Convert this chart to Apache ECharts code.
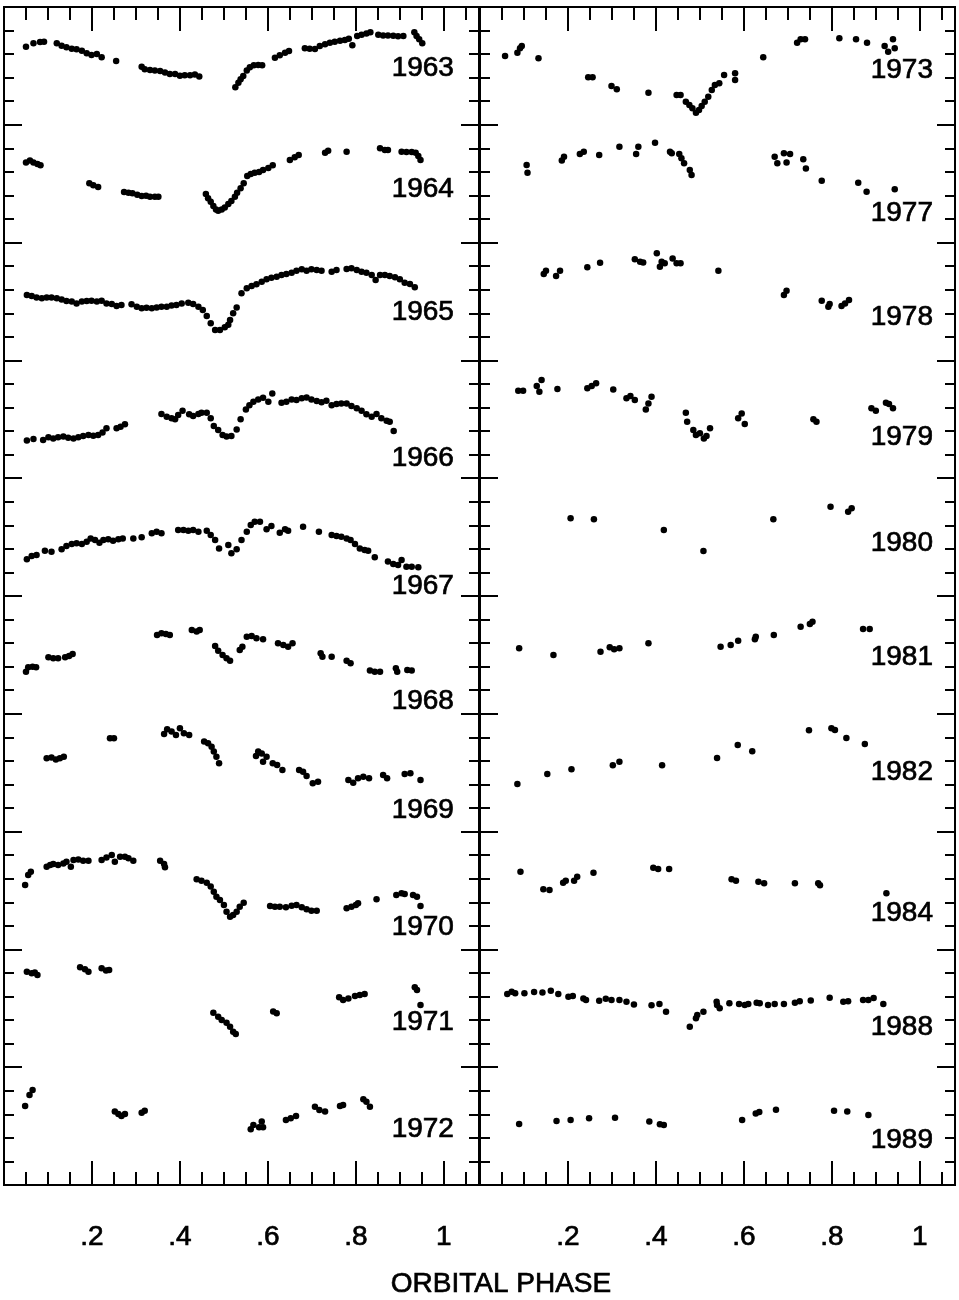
<!DOCTYPE html>
<html>
<head>
<meta charset="utf-8">
<script src="https://cdn.jsdelivr.net/npm/echarts@6/dist/echarts.min.js"></script>
<style>
  html, body { margin: 0; background: #fff; }
  #chart { width: 959px; height: 1300px; }
</style>
</head>
<body>
<div id="chart"></div>
<script>
// light curves: [orbital phase, relative magnitude offset (one major division = 1)]
const d1963 = [[0.050,0.337],[0.067,0.308],[0.082,0.297],[0.091,0.294],[0.120,0.308],[0.131,0.328],[0.142,0.342],[0.154,0.354],[0.165,0.359],[0.177,0.371],[0.188,0.393],[0.199,0.407],[0.211,0.399],[0.222,0.427],[0.255,0.458],[0.313,0.507],[0.320,0.529],[0.332,0.535],[0.343,0.540],[0.355,0.543],[0.366,0.557],[0.377,0.569],[0.389,0.569],[0.400,0.583],[0.411,0.580],[0.423,0.580],[0.434,0.574],[0.444,0.591],[0.526,0.682],[0.533,0.642],[0.538,0.614],[0.544,0.586],[0.552,0.540],[0.559,0.512],[0.568,0.495],[0.578,0.492],[0.587,0.495],[0.616,0.430],[0.627,0.410],[0.639,0.388],[0.648,0.374],[0.684,0.351],[0.695,0.354],[0.707,0.357],[0.718,0.331],[0.730,0.317],[0.741,0.303],[0.752,0.294],[0.764,0.286],[0.775,0.280],[0.784,0.269],[0.792,0.325],[0.803,0.246],[0.813,0.235],[0.824,0.224],[0.833,0.215],[0.851,0.235],[0.862,0.241],[0.873,0.241],[0.885,0.243],[0.896,0.249],[0.908,0.246],[0.933,0.215],[0.938,0.246],[0.944,0.274],[0.951,0.308]];
const d1964 = [[0.050,1.321],[0.059,1.304],[0.067,1.319],[0.076,1.333],[0.083,1.344],[0.194,1.497],[0.203,1.514],[0.214,1.528],[0.273,1.570],[0.283,1.576],[0.292,1.582],[0.303,1.593],[0.313,1.604],[0.323,1.602],[0.332,1.610],[0.343,1.610],[0.351,1.610],[0.459,1.587],[0.464,1.624],[0.470,1.653],[0.476,1.689],[0.482,1.718],[0.487,1.729],[0.495,1.718],[0.502,1.701],[0.510,1.672],[0.517,1.647],[0.525,1.610],[0.530,1.576],[0.538,1.539],[0.545,1.497],[0.553,1.435],[0.561,1.418],[0.570,1.406],[0.580,1.401],[0.589,1.384],[0.601,1.367],[0.611,1.344],[0.650,1.299],[0.661,1.276],[0.670,1.256],[0.730,1.237],[0.737,1.220],[0.779,1.228],[0.855,1.200],[0.866,1.214],[0.873,1.214],[0.904,1.228],[0.915,1.231],[0.927,1.231],[0.936,1.237],[0.942,1.265],[0.947,1.299]];
const d1965 = [[0.052,2.445],[0.063,2.453],[0.074,2.467],[0.086,2.473],[0.097,2.467],[0.108,2.465],[0.120,2.473],[0.131,2.482],[0.142,2.496],[0.154,2.501],[0.165,2.516],[0.177,2.501],[0.188,2.496],[0.199,2.493],[0.211,2.501],[0.222,2.493],[0.233,2.516],[0.245,2.521],[0.256,2.538],[0.267,2.530],[0.290,2.524],[0.302,2.544],[0.313,2.558],[0.324,2.552],[0.336,2.558],[0.347,2.550],[0.358,2.544],[0.370,2.544],[0.381,2.535],[0.392,2.530],[0.404,2.516],[0.419,2.510],[0.430,2.521],[0.442,2.544],[0.452,2.572],[0.461,2.623],[0.470,2.685],[0.480,2.742],[0.491,2.742],[0.502,2.719],[0.510,2.697],[0.514,2.657],[0.521,2.600],[0.529,2.550],[0.540,2.431],[0.552,2.388],[0.563,2.368],[0.574,2.354],[0.586,2.332],[0.597,2.312],[0.608,2.298],[0.620,2.289],[0.631,2.275],[0.642,2.267],[0.654,2.255],[0.665,2.238],[0.677,2.227],[0.688,2.238],[0.699,2.227],[0.711,2.233],[0.722,2.238],[0.745,2.247],[0.756,2.233],[0.779,2.224],[0.790,2.218],[0.802,2.233],[0.813,2.247],[0.824,2.255],[0.836,2.275],[0.845,2.317],[0.855,2.275],[0.866,2.275],[0.877,2.284],[0.889,2.295],[0.900,2.312],[0.911,2.340],[0.923,2.351],[0.934,2.380]];
const d1966 = [[0.052,3.681],[0.067,3.667],[0.089,3.676],[0.101,3.653],[0.112,3.662],[0.123,3.653],[0.135,3.647],[0.146,3.656],[0.158,3.662],[0.169,3.653],[0.180,3.642],[0.192,3.633],[0.203,3.639],[0.214,3.633],[0.224,3.613],[0.233,3.577],[0.256,3.577],[0.265,3.563],[0.275,3.543],[0.358,3.455],[0.370,3.478],[0.381,3.492],[0.389,3.500],[0.396,3.463],[0.406,3.427],[0.421,3.458],[0.430,3.472],[0.442,3.455],[0.449,3.444],[0.461,3.444],[0.470,3.492],[0.477,3.557],[0.487,3.591],[0.497,3.633],[0.506,3.647],[0.517,3.642],[0.529,3.586],[0.538,3.500],[0.550,3.416],[0.558,3.380],[0.567,3.351],[0.578,3.331],[0.589,3.317],[0.601,3.351],[0.610,3.280],[0.631,3.359],[0.642,3.351],[0.654,3.331],[0.665,3.337],[0.677,3.322],[0.688,3.314],[0.699,3.331],[0.711,3.345],[0.722,3.356],[0.733,3.342],[0.745,3.380],[0.756,3.370],[0.767,3.365],[0.779,3.365],[0.790,3.387],[0.802,3.407],[0.813,3.427],[0.824,3.458],[0.836,3.478],[0.847,3.455],[0.858,3.492],[0.870,3.512],[0.877,3.520],[0.886,3.600]];
const d1967 = [[0.052,4.689],[0.063,4.660],[0.074,4.652],[0.093,4.615],[0.108,4.624],[0.131,4.604],[0.142,4.576],[0.154,4.559],[0.165,4.553],[0.177,4.559],[0.188,4.539],[0.197,4.511],[0.207,4.525],[0.217,4.548],[0.226,4.525],[0.237,4.519],[0.248,4.530],[0.260,4.519],[0.270,4.511],[0.294,4.511],[0.313,4.502],[0.336,4.468],[0.347,4.454],[0.358,4.468],[0.396,4.440],[0.408,4.440],[0.419,4.446],[0.430,4.440],[0.442,4.454],[0.461,4.446],[0.470,4.482],[0.480,4.525],[0.489,4.596],[0.510,4.567],[0.517,4.638],[0.529,4.604],[0.540,4.525],[0.552,4.454],[0.561,4.398],[0.570,4.369],[0.582,4.369],[0.597,4.434],[0.608,4.406],[0.627,4.463],[0.639,4.434],[0.646,4.446],[0.680,4.412],[0.716,4.454],[0.745,4.482],[0.756,4.491],[0.767,4.496],[0.779,4.511],[0.788,4.525],[0.798,4.559],[0.809,4.596],[0.820,4.610],[0.828,4.615],[0.843,4.671],[0.873,4.708],[0.885,4.728],[0.896,4.737],[0.904,4.694],[0.915,4.751],[0.927,4.751],[0.942,4.757]];
const d1968 = [[0.050,5.642],[0.055,5.605],[0.065,5.600],[0.073,5.605],[0.101,5.520],[0.112,5.529],[0.123,5.529],[0.139,5.520],[0.148,5.509],[0.156,5.492],[0.348,5.331],[0.358,5.317],[0.368,5.322],[0.377,5.331],[0.427,5.288],[0.438,5.302],[0.445,5.288],[0.480,5.424],[0.487,5.464],[0.497,5.501],[0.506,5.529],[0.514,5.549],[0.536,5.458],[0.542,5.430],[0.552,5.345],[0.563,5.339],[0.574,5.359],[0.589,5.368],[0.623,5.402],[0.635,5.416],[0.646,5.430],[0.656,5.402],[0.720,5.487],[0.724,5.515],[0.745,5.515],[0.779,5.549],[0.788,5.571],[0.832,5.633],[0.843,5.642],[0.855,5.642],[0.891,5.614],[0.894,5.642],[0.917,5.628],[0.927,5.633]];
const d1969 = [[0.097,6.378],[0.108,6.370],[0.118,6.387],[0.127,6.378],[0.136,6.364],[0.241,6.208],[0.250,6.208],[0.364,6.171],[0.371,6.132],[0.381,6.151],[0.391,6.180],[0.400,6.123],[0.409,6.166],[0.421,6.180],[0.455,6.236],[0.464,6.251],[0.472,6.279],[0.477,6.321],[0.483,6.364],[0.489,6.420],[0.573,6.358],[0.578,6.321],[0.586,6.336],[0.589,6.407],[0.597,6.364],[0.611,6.420],[0.621,6.435],[0.633,6.477],[0.671,6.477],[0.680,6.491],[0.688,6.528],[0.702,6.590],[0.714,6.576],[0.783,6.562],[0.794,6.585],[0.805,6.548],[0.817,6.534],[0.830,6.548],[0.862,6.520],[0.871,6.548],[0.911,6.511],[0.924,6.505],[0.947,6.562]];
const d1970 = [[0.048,7.453],[0.055,7.368],[0.061,7.340],[0.097,7.298],[0.105,7.284],[0.112,7.275],[0.123,7.284],[0.135,7.270],[0.142,7.255],[0.152,7.298],[0.158,7.241],[0.169,7.236],[0.180,7.247],[0.192,7.247],[0.222,7.241],[0.233,7.219],[0.245,7.199],[0.252,7.255],[0.264,7.213],[0.275,7.213],[0.283,7.227],[0.294,7.247],[0.355,7.247],[0.364,7.275],[0.366,7.303],[0.438,7.405],[0.449,7.417],[0.461,7.434],[0.470,7.467],[0.477,7.510],[0.483,7.552],[0.491,7.581],[0.500,7.623],[0.506,7.680],[0.514,7.722],[0.521,7.708],[0.529,7.680],[0.536,7.637],[0.545,7.603],[0.605,7.631],[0.616,7.637],[0.627,7.637],[0.641,7.643],[0.654,7.629],[0.665,7.623],[0.677,7.643],[0.688,7.660],[0.699,7.671],[0.711,7.671],[0.779,7.651],[0.790,7.637],[0.800,7.623],[0.805,7.609],[0.847,7.575],[0.892,7.538],[0.904,7.524],[0.911,7.530],[0.930,7.538],[0.939,7.552],[0.947,7.631]];
const d1971 = [[0.052,8.189],[0.063,8.203],[0.070,8.197],[0.076,8.217],[0.173,8.152],[0.184,8.169],[0.192,8.189],[0.222,8.161],[0.232,8.180],[0.239,8.175],[0.476,8.537],[0.487,8.571],[0.495,8.599],[0.506,8.622],[0.514,8.656],[0.521,8.699],[0.527,8.718],[0.612,8.528],[0.620,8.543],[0.762,8.407],[0.771,8.430],[0.783,8.416],[0.798,8.396],[0.809,8.387],[0.820,8.379],[0.934,8.322],[0.939,8.345],[0.947,8.472]];
const d1972 = [[0.048,9.329],[0.058,9.236],[0.065,9.194],[0.252,9.377],[0.260,9.397],[0.267,9.414],[0.275,9.397],[0.313,9.386],[0.320,9.369],[0.561,9.527],[0.567,9.491],[0.580,9.510],[0.586,9.462],[0.589,9.510],[0.641,9.448],[0.652,9.434],[0.664,9.414],[0.707,9.335],[0.717,9.363],[0.730,9.377],[0.764,9.329],[0.771,9.321],[0.817,9.273],[0.824,9.293],[0.832,9.335]];

const d1973 = [[0.057,0.416],[0.085,0.388],[0.091,0.351],[0.095,0.331],[0.133,0.436],[0.246,0.597],[0.256,0.597],[0.299,0.671],[0.311,0.699],[0.383,0.727],[0.447,0.747],[0.456,0.747],[0.468,0.804],[0.476,0.832],[0.483,0.860],[0.491,0.897],[0.498,0.874],[0.504,0.840],[0.511,0.804],[0.519,0.761],[0.527,0.705],[0.534,0.662],[0.544,0.648],[0.555,0.577],[0.580,0.563],[0.580,0.620],[0.644,0.427],[0.721,0.303],[0.729,0.274],[0.739,0.274],[0.817,0.266],[0.855,0.274],[0.880,0.303],[0.920,0.331],[0.928,0.379],[0.939,0.274],[0.943,0.351]];
const d1977 = [[0.106,1.341],[0.108,1.406],[0.186,1.304],[0.191,1.271],[0.227,1.248],[0.236,1.228],[0.271,1.256],[0.317,1.186],[0.355,1.248],[0.360,1.186],[0.398,1.152],[0.432,1.228],[0.436,1.242],[0.453,1.248],[0.458,1.285],[0.464,1.327],[0.477,1.384],[0.481,1.426],[0.670,1.271],[0.676,1.327],[0.691,1.242],[0.697,1.321],[0.705,1.248],[0.735,1.293],[0.741,1.370],[0.777,1.474],[0.860,1.491],[0.879,1.568],[0.943,1.548]];
const d1978 = [[0.145,2.267],[0.150,2.238],[0.173,2.284],[0.182,2.238],[0.244,2.210],[0.273,2.170],[0.352,2.142],[0.364,2.162],[0.371,2.168],[0.402,2.091],[0.409,2.204],[0.413,2.162],[0.420,2.176],[0.438,2.134],[0.447,2.176],[0.456,2.176],[0.542,2.238],[0.691,2.445],[0.697,2.408],[0.777,2.493],[0.792,2.544],[0.795,2.521],[0.822,2.538],[0.830,2.516],[0.839,2.487]];
const d1979 = [[0.087,3.257],[0.098,3.257],[0.129,3.217],[0.135,3.266],[0.140,3.166],[0.176,3.243],[0.244,3.237],[0.254,3.217],[0.264,3.194],[0.303,3.246],[0.333,3.322],[0.342,3.302],[0.352,3.336],[0.377,3.416],[0.383,3.365],[0.390,3.308],[0.468,3.444],[0.471,3.520],[0.485,3.591],[0.491,3.633],[0.500,3.619],[0.509,3.662],[0.515,3.642],[0.523,3.577],[0.587,3.492],[0.595,3.450],[0.602,3.540],[0.758,3.500],[0.765,3.520],[0.890,3.407],[0.900,3.427],[0.923,3.359],[0.930,3.370],[0.939,3.407]];
const d1980 = [[0.206,4.341],[0.259,4.349],[0.418,4.440],[0.508,4.618],[0.667,4.349],[0.797,4.242],[0.837,4.285],[0.845,4.256]];
const d1981 = [[0.089,5.444],[0.167,5.501],[0.274,5.473],[0.295,5.436],[0.305,5.453],[0.317,5.444],[0.383,5.402],[0.547,5.430],[0.570,5.416],[0.587,5.379],[0.625,5.368],[0.627,5.345],[0.668,5.331],[0.729,5.260],[0.750,5.237],[0.756,5.218],[0.871,5.280],[0.886,5.280]];
const d1982 = [[0.085,6.596],[0.153,6.511],[0.208,6.471],[0.302,6.437],[0.317,6.406],[0.414,6.437],[0.539,6.375],[0.586,6.265],[0.619,6.318],[0.748,6.140],[0.799,6.123],[0.807,6.137],[0.833,6.205],[0.875,6.256]];
const d1984 = [[0.092,7.340],[0.144,7.490],[0.158,7.496],[0.189,7.434],[0.195,7.417],[0.214,7.417],[0.221,7.383],[0.258,7.349],[0.394,7.306],[0.405,7.317],[0.430,7.317],[0.572,7.405],[0.582,7.417],[0.633,7.425],[0.646,7.439],[0.716,7.439],[0.769,7.439],[0.773,7.456],[0.924,7.524]];
const d1988 = [[0.062,8.379],[0.072,8.359],[0.080,8.373],[0.101,8.373],[0.123,8.362],[0.142,8.365],[0.161,8.351],[0.178,8.379],[0.201,8.401],[0.211,8.396],[0.235,8.416],[0.241,8.430],[0.271,8.435],[0.286,8.418],[0.299,8.430],[0.317,8.430],[0.333,8.444],[0.350,8.467],[0.390,8.475],[0.408,8.464],[0.423,8.529],[0.477,8.656],[0.491,8.585],[0.494,8.557],[0.508,8.529],[0.538,8.444],[0.539,8.472],[0.545,8.500],[0.567,8.458],[0.589,8.464],[0.602,8.472],[0.610,8.464],[0.629,8.452],[0.636,8.458],[0.655,8.472],[0.670,8.464],[0.691,8.464],[0.716,8.452],[0.727,8.441],[0.752,8.433],[0.795,8.410],[0.826,8.444],[0.837,8.441],[0.871,8.430],[0.883,8.430],[0.895,8.413],[0.917,8.464]];
const d1989 = [[0.089,9.482],[0.174,9.457],[0.206,9.448],[0.248,9.434],[0.307,9.429],[0.385,9.460],[0.409,9.485],[0.418,9.491],[0.596,9.448],[0.627,9.392],[0.635,9.380],[0.673,9.361],[0.805,9.369],[0.835,9.377],[0.883,9.406]];

const leftYears = ['1963','1964','1965','1966','1967','1968','1969','1970','1971','1972'];
const rightYears = ['1973','1977','1978','1979','1980','1981','1982','1984','1988','1989'];
const leftCurves = [d1963,d1964,d1965,d1966,d1967,d1968,d1969,d1970,d1971,d1972];
const rightCurves = [d1973,d1977,d1978,d1979,d1980,d1981,d1982,d1984,d1988,d1989];
// where each year label sits (right end of the text, in axis units)
const leftLabelMag = [0.52,1.545,2.59,3.83,4.92,5.89,6.82,7.81,8.62,9.53];
const rightLabelMag = [0.54,1.75,2.63,3.65,4.55,5.52,6.50,7.69,8.66,9.62];
const leftLabelPhase = 1.023;
const rightLabelPhase = 1.03;

const FONT = '"Liberation Sans", Arial, Helvetica, sans-serif';
const ink = '#000';
// slightly heavier type, like the printed figure
const textStyle = { fontSize: 28, color: ink, fontFamily: FONT, textBorderColor: ink, textBorderWidth: 0.7 };

function xAxisOf(grid, pos, interval, len, withLabels) {
  return {
    type: 'value', gridIndex: grid, position: pos,
    min: 0, max: 1.08, interval: interval,
    axisLine: { show: true, onZero: false, lineStyle: { color: ink, width: 2 } },
    axisTick: { show: true, inside: true, length: len, lineStyle: { color: ink, width: 2 } },
    axisLabel: withLabels ? Object.assign({
      show: true, margin: 38,
      formatter: function (v) {
        if (v < 0.1 || v > 1.01) return '';
        if (v > 0.99) return '1';
        return '.' + Math.round(v * 10);
      }
    }, textStyle) : { show: false },
    splitLine: { show: false }
  };
}

function yAxisOf(grid, pos, interval, len) {
  return {
    type: 'value', gridIndex: grid, position: pos, inverse: true,
    min: 0, max: 10, interval: interval,
    axisLine: { show: true, onZero: false, lineStyle: { color: ink, width: 2 } },
    axisTick: { show: true, inside: true, length: len, lineStyle: { color: ink, width: 2 } },
    axisLabel: { show: false },
    splitLine: { show: false }
  };
}

const xAxes = [];
const yAxes = [];
[0, 1].forEach((g) => {
  xAxes.push(xAxisOf(g, 'bottom', 0.2, 24, true));
  xAxes.push(xAxisOf(g, 'bottom', 0.05, 13, false));
  xAxes.push(xAxisOf(g, 'top', 0.2, 24, false));
  xAxes.push(xAxisOf(g, 'top', 0.05, 13, false));
  yAxes.push(yAxisOf(g, 'left', 1, 18));
  yAxes.push(yAxisOf(g, 'left', 0.2, 10));
  yAxes.push(yAxisOf(g, 'right', 1, 18));
  yAxes.push(yAxisOf(g, 'right', 0.2, 10));
});

const series = [];
function addPanel(curves, years, labelMag, labelPhase, g) {
  curves.forEach((c, i) => {
    series.push({
      name: years[i], type: 'scatter',
      xAxisIndex: g * 4, yAxisIndex: g * 4,
      data: c, symbolSize: 6.5,
      itemStyle: { color: ink, opacity: 1 },
      silent: true
    });
  });
  series.push({
    type: 'scatter', xAxisIndex: g * 4, yAxisIndex: g * 4,
    symbolSize: 0, silent: true,
    itemStyle: { color: ink, opacity: 1 },
    data: years.map((y, i) => ({ name: y, value: [labelPhase, labelMag[i]] })),
    label: Object.assign({ show: true, position: 'left', distance: 0, formatter: '{b}', opacity: 1 }, textStyle)
  });
}
addPanel(leftCurves, leftYears, leftLabelMag, leftLabelPhase, 0);
addPanel(rightCurves, rightYears, rightLabelMag, rightLabelPhase, 1);

const chart = echarts.init(document.getElementById('chart'), null, { renderer: 'canvas' });
chart.setOption({
  backgroundColor: '#fff',
  animation: false,
  grid: [
    { left: 4, top: 7, width: 475, height: 1178 },
    { left: 480, top: 7, width: 475, height: 1178 }
  ],
  xAxis: xAxes,
  yAxis: yAxes,
  graphic: [{
    type: 'text', x: 501, y: 1284,
    style: {
      text: 'ORBITAL PHASE', fontSize: 28, fontFamily: FONT, fill: ink,
      stroke: ink, lineWidth: 0.7,
      textAlign: 'center', textVerticalAlign: 'middle'
    }
  }],
  series: series
});
</script>
</body>
</html>
